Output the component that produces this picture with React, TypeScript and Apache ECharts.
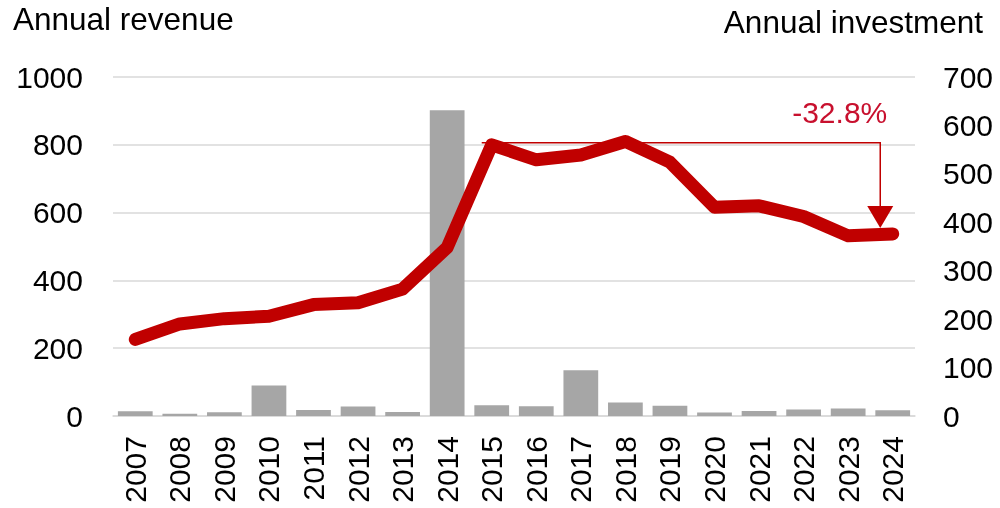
import React, { useEffect, useRef } from "react";
import * as echarts from "echarts";

const years = ["2007","2008","2009","2010","2011","2012","2013","2014","2015","2016","2017","2018","2019","2020","2021","2022","2023","2024"];
const revenueBars = [14, 7, 11, 90, 18, 28, 12, 902, 32, 29, 135, 40, 30, 10, 15, 19, 22, 17];
const investmentLine = [158, 190, 201, 206, 230, 234, 262, 348, 560, 529, 539, 567, 524, 431, 434, 412, 372, 376];
const leftTitle = "Annual revenue";
const rightTitle = "Annual investment";
const changeLabel = "-32.8%";
const changeFrom = "2015";
const changeTo = "2024";

const FONT = "'Liberation Sans', Arial, Helvetica, sans-serif";
const RED = "#c00000";
const FS = 30;
const TFS = 31.5;

export default function App() {
  const ref = useRef<HTMLDivElement>(null);
  useEffect(() => {
    if (!ref.current) return;
    const chart = echarts.init(ref.current, null, { renderer: "svg" });
    const titles = [
      { type: "text", left: 13, top: 3, style: { text: leftTitle, font: `${TFS}px ${FONT}`, fill: "#000" } },
      { type: "text", right: 17, top: 6, style: { text: rightTitle, font: `${TFS}px ${FONT}`, fill: "#000" } },
    ];
    chart.setOption({
      animation: false,
      textStyle: { fontFamily: FONT },
      grid: { left: 113, right: 85, top: 77, bottom: 92, containLabel: false },
      xAxis: {
        type: "category",
        data: years,
        boundaryGap: true,
        axisTick: { show: false },
        axisLine: { lineStyle: { color: "#d9d9d9", width: 1.5 } },
        axisLabel: { rotate: 90, fontSize: FS, color: "#000", margin: 20, fontFamily: FONT, interval: 0 },
      },
      yAxis: [
        {
          type: "value", min: 0, max: 1000, interval: 200,
          axisLine: { show: false }, axisTick: { show: false },
          axisLabel: { fontSize: FS, color: "#000", margin: 30, fontFamily: FONT, formatter: (v: number) => String(v) },
          splitLine: { lineStyle: { color: "#d9d9d9", width: 1.5 } },
        },
        {
          type: "value", min: 0, max: 700, interval: 100,
          axisLine: { show: false }, axisTick: { show: false },
          axisLabel: { fontSize: FS, color: "#000", margin: 28, fontFamily: FONT, formatter: (v: number) => String(v) },
          splitLine: { show: false },
        },
      ],
      series: [
        {
          type: "bar", data: revenueBars, yAxisIndex: 0, barCategoryGap: "22%",
          itemStyle: { color: "#a6a6a6" }, silent: true,
        },
        {
          type: "line", data: investmentLine, yAxisIndex: 1, symbol: "none",
          lineStyle: { color: RED, width: 13, cap: "round", join: "round" }, silent: true, z: 5,
        },
      ],
      graphic: titles,
    });

    const iFrom = years.indexOf(changeFrom);
    const iTo = years.indexOf(changeTo);
    const pFrom = chart.convertToPixel({ xAxisIndex: 0, yAxisIndex: 1 }, [iFrom, investmentLine[iFrom]]) as number[];
    const pTo = chart.convertToPixel({ xAxisIndex: 0, yAxisIndex: 1 }, [iTo, investmentLine[iTo]]) as number[];
    const pPrev = chart.convertToPixel({ xAxisIndex: 0, yAxisIndex: 1 }, [iTo - 1, investmentLine[iTo - 1]]) as number[];
    const ax = pPrev[0] + 0.72 * (pTo[0] - pPrev[0]);
    const hy = pFrom[1] - 2;
    const tipY = pTo[1] - 6;
    chart.setOption({
      graphic: [
        ...titles,
        {
          type: "polyline", z: 10,
          shape: { points: [[pFrom[0] - 10, hy], [ax, hy], [ax, tipY - 20]] },
          style: { stroke: RED, lineWidth: 1.5, fill: "none" },
        },
        {
          type: "polygon", z: 10,
          shape: { points: [[ax - 13, tipY - 22], [ax + 13, tipY - 22], [ax, tipY]] },
          style: { fill: RED },
        },
        {
          type: "text", z: 10, x: ax + 7, y: hy - 30,
          style: { text: changeLabel, font: `${FS}px ${FONT}`, fill: "#c8102e", align: "right", verticalAlign: "middle" },
        },
      ],
    }, { replaceMerge: ["graphic"] });

    return () => chart.dispose();
  }, []);
  return <div ref={ref} style={{ position: "fixed", left: 0, top: 0, width: 1000, height: 508 }} />;
}
